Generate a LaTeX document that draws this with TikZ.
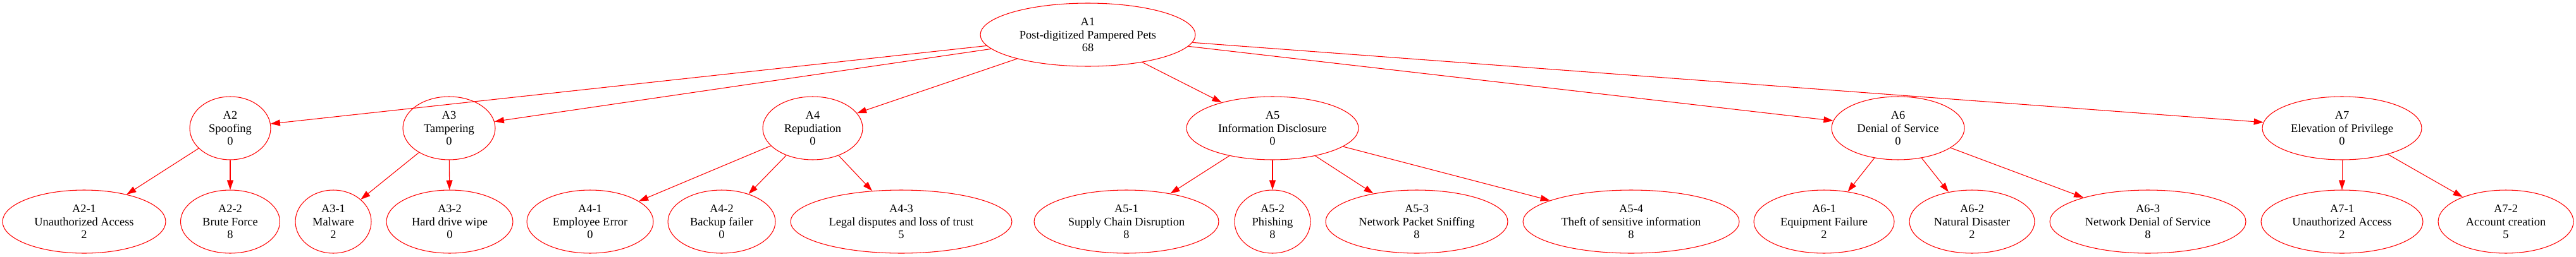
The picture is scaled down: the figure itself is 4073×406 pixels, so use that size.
\documentclass[tikz,border=0pt]{standalone}
\usepackage{fontspec}
\setmainfont{Liberation Serif}
\usetikzlibrary{shapes.geometric,arrows.meta}

\begin{document}
\begin{tikzpicture}
  [x=0.02cm,y=-0.02cm,
   threat/.style={ellipse,draw=red,line width=0.6pt,align=center,inner sep=0pt,
                  minimum height=2cm,font=\fontsize{10.5}{11.7}\selectfont},
   attack/.style={ellipse,draw=red,line width=0.6pt,align=center,inner sep=0pt,
                  minimum height=2cm,font=\fontsize{10.5}{11.7}\selectfont},
   link/.style={red,line width=0.6pt,-{Triangle[length=0.3cm,width=0.2cm]}}]
  \useasboundingbox (0,0) rectangle (4073,406);
  % root
  \node[threat,minimum width=6.8cm] (A1) at (1720,55) {A1\\Post-digitized Pampered Pets\\68};
  % STRIDE categories
  \node[threat,minimum width=2.56cm] (A2) at (364,203) {A2\\Spoofing\\0};
  \node[threat,minimum width=2.92cm] (A3) at (710,203) {A3\\Tampering\\0};
  \node[threat,minimum width=3.16cm] (A4) at (1285,203) {A4\\Repudiation\\0};
  \node[threat,minimum width=5.44cm] (A5) at (2012,203) {A5\\Information Disclosure\\0};
  \node[threat,minimum width=4.2cm] (A6) at (3001,203) {A6\\Denial of Service\\0};
  \node[threat,minimum width=5.04cm] (A7) at (3703,203) {A7\\Elevation of Privilege\\0};
  % attacks
  \node[attack,minimum width=5.16cm] (A2-1) at (133,351) {A2-1\\Unauthorized Access\\2};
  \node[attack,minimum width=3.14cm] (A2-2) at (364,351) {A2-2\\Brute Force\\8};
  \node[attack,minimum width=2.4cm] (A3-1) at (527,351) {A3-1\\Malware\\2};
  \node[attack,minimum width=4.0cm] (A3-2) at (711,351) {A3-2\\Hard drive wipe\\0};
  \node[attack,minimum width=4.0cm] (A4-1) at (933,351) {A4-1\\Employee Error\\0};
  \node[attack,minimum width=3.4cm] (A4-2) at (1141,351) {A4-2\\Backup failer\\0};
  \node[attack,minimum width=7.0cm] (A4-3) at (1425,351) {A4-3\\Legal disputes and loss of trust\\5};
  \node[attack,minimum width=5.84cm] (A5-1) at (1781,351) {A5-1\\Supply Chain Disruption\\8};
  \node[attack,minimum width=2.4cm] (A5-2) at (2012,351) {A5-2\\Phishing\\8};
  \node[attack,minimum width=5.76cm] (A5-3) at (2240,351) {A5-3\\Network Packet Sniffing\\8};
  \node[attack,minimum width=6.84cm] (A5-4) at (2579,351) {A5-4\\Theft of sensitive information\\8};
  \node[attack,minimum width=4.44cm] (A6-1) at (2884,351) {A6-1\\Equipment Failure\\2};
  \node[attack,minimum width=3.96cm] (A6-2) at (3118,351) {A6-2\\Natural Disaster\\2};
  \node[attack,minimum width=6.2cm] (A6-3) at (3396,351) {A6-3\\Network Denial of Service\\8};
  \node[attack,minimum width=5.12cm] (A7-1) at (3703,351) {A7-1\\Unauthorized Access\\2};
  \node[attack,minimum width=4.28cm] (A7-2) at (3962,351) {A7-2\\Account creation\\5};
  % edges
  \foreach \t in {A2,A3,A4,A5,A6,A7}
    \draw[link] (A1) to (\t);
  \draw[link] (A2) to (A2-1);
  \draw[link] (A2) to (A2-2);
  \draw[link] (A3) to (A3-1);
  \draw[link] (A3) to (A3-2);
  \draw[link] (A4) to (A4-1);
  \draw[link] (A4) to (A4-2);
  \draw[link] (A4) to (A4-3);
  \draw[link] (A5) to (A5-1);
  \draw[link] (A5) to (A5-2);
  \draw[link] (A5) to (A5-3);
  \draw[link] (A5) to (A5-4);
  \draw[link] (A6) to (A6-1);
  \draw[link] (A6) to (A6-2);
  \draw[link] (A6) to (A6-3);
  \draw[link] (A7) to (A7-1);
  \draw[link] (A7) to (A7-2);
\end{tikzpicture}
\end{document}
